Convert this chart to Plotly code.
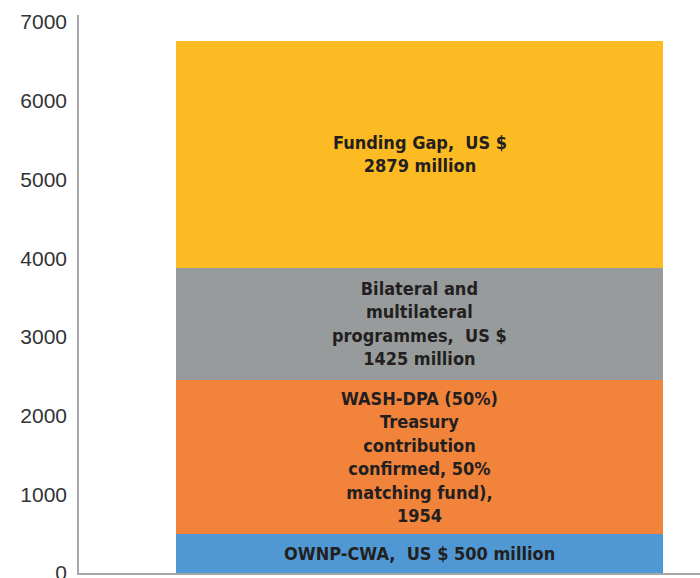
import plotly.graph_objects as go

# Funding sources stacked in one column (US $ million)
segments = ["OWNP-CWA", "WASH-DPA", "Bilateral and multilateral", "Funding Gap"]
values = [500, 1954, 1425, 2879]
labels = [
    "OWNP-CWA,\u00a0 US $ 500 million",
    "WASH-DPA (50%)<br>Treasury<br>contribution<br>confirmed, 50%<br>matching fund),<br>1954",
    "Bilateral and<br>multilateral<br>programmes,\u00a0 US $<br>1425 million",
    "Funding Gap,\u00a0 US $<br>2879 million",
]
colors = ["#4F98D3", "#F1833B", "#979B9C", "#FDBB23"]
y_ticks = [0, 1000, 2000, 3000, 4000, 5000, 6000, 7000]

label_font = dict(family="DejaVu Sans Condensed, Liberation Sans Narrow, Arial Narrow, sans-serif",
                  size=18, color="#231F20")

fig = go.Figure()
base = 0
for name, v, c, lab in zip(segments, values, colors, labels):
    fig.add_trace(go.Bar(x=[0], y=[v], name=name, marker=dict(color=c, line=dict(width=0)),
                         width=1, hoverinfo="skip", showlegend=False))
    fig.add_annotation(x=0, y=base + v / 2, text="<b>" + lab + "</b>", showarrow=False,
                       font=label_font, align="center", xref="x", yref="y")
    base += v

fig.update_layout(
    barmode="stack",
    width=700, height=578,
    margin=dict(l=79, r=0, t=15, b=5, autoexpand=False),
    paper_bgcolor="white", plot_bgcolor="white",
    xaxis=dict(range=[-0.6992, 0.5760], showticklabels=False, showgrid=False, zeroline=False,
               showline=True, linecolor="#A6A6A6", linewidth=1.5, ticks="", automargin=False),
    yaxis=dict(range=[0, 7090], tickvals=y_ticks, showgrid=False, zeroline=False,
               showline=True, linecolor="#A6A6A6", linewidth=1.5,
               ticks="outside", ticklen=6, tickcolor="rgba(0,0,0,0)",
               ticklabeloverflow="allow", automargin=False,
               tickfont=dict(family="Liberation Sans, Arial, sans-serif", size=21, color="#333333")),
)

fig.write_html("out.html")
